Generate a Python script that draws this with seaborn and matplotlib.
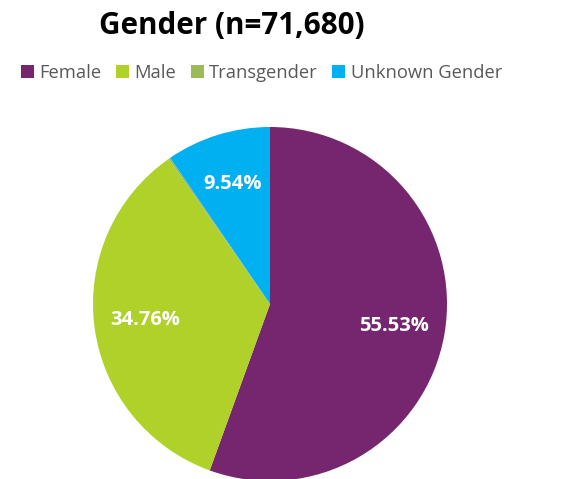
import matplotlib.pyplot as plt
import seaborn as sns

categories = ["Female", "Male", "Transgender", "Unknown Gender"]
shares = [55.53, 34.76, 0.17, 9.54]
colors = ["#76266E", "#B0D12A", "#9BBB59", "#00B0F0"]
title = "Gender (n=71,680)"

sns.set_theme(style="white")
plt.rcParams["font.family"] = ["Open Sans", "DejaVu Sans"]

fig = plt.figure(figsize=(5.66, 4.79), dpi=100)
ax = fig.add_axes([93 / 566, -2 / 479, 354 / 566, 354 / 479])


def fmt(p):
    return f"{p:.2f}%" if p > 1 else ""


wedges, texts, autotexts = ax.pie(
    shares, colors=colors, startangle=90, counterclock=False,
    autopct=fmt, pctdistance=0.71,
    wedgeprops=dict(linewidth=0),
    textprops=dict(color="white", fontsize=14.5, fontweight="bold"),
)
ax.set_xlim(-1, 1)
ax.set_ylim(-1, 1)
ax.set_aspect("equal")

fig.text(0.41, 0.945, title, ha="center", va="center",
         fontsize=21.3, fontweight="bold", color="black")

fig.legend(wedges, categories, loc="center", bbox_to_anchor=(0.462, 0.848),
           ncol=4, frameon=False, fontsize=13.2, labelcolor="#595959",
           handlelength=0.7, handleheight=0.7, handletextpad=0.3,
           columnspacing=0.8, borderaxespad=0)

fig.savefig("out.png", dpi=100)
